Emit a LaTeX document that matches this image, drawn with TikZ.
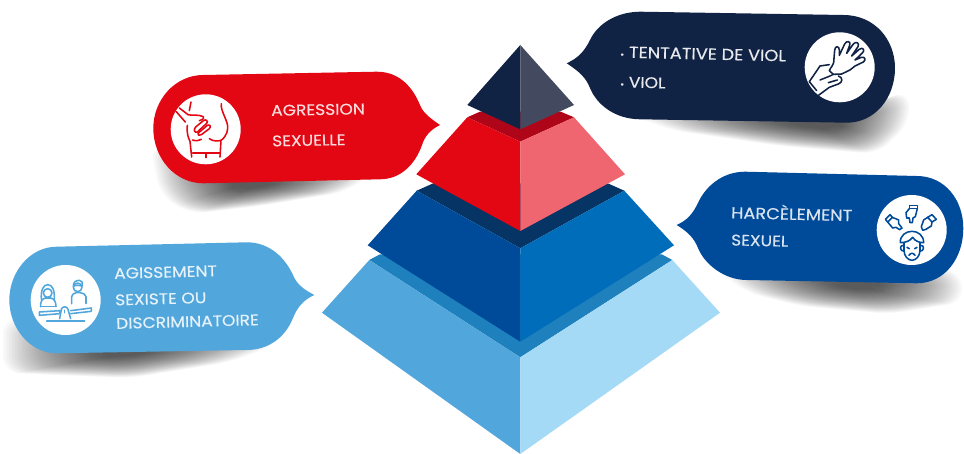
\documentclass[tikz,border=0pt]{standalone}
\usepackage{fontspec}
\newfontfamily\montf{Poppins}[FakeStretch=1.11,FakeBold=0.35]
\definecolor{cNavy}{HTML}{112344}
\definecolor{cSlate}{HTML}{434A5F}
\definecolor{cRed}{HTML}{E30613}
\definecolor{cRedL}{HTML}{EF6670}
\definecolor{cRedD}{HTML}{AE0618}
\definecolor{cBlue}{HTML}{004A9A}
\definecolor{cBlueR}{HTML}{006DBA}
\definecolor{cBlueD}{HTML}{063464}
\definecolor{cBand}{HTML}{1E80BC}
\definecolor{cSky}{HTML}{51A6DC}
\definecolor{cSkyL}{HTML}{A5DAF7}
\newcommand{\softshadow}[2]{%
  \foreach \s in {1,.975,.95,.925,.9,.875,.85,.825,.8,.775,.75,.725,.7,.675,.65,.625,.6,.575,.55,.525,.5,.475,.45,.425,.4,.375,.35,.325,.3,.275,.25,.225,.2}{%
    \fill[black,opacity=.027,rounded corners=16pt,scale around={\s:#1}] #2;}}
\tikzset{
  lab/.style={anchor=west,inner sep=0pt,font=\montf\fontsize{15.4}{16}\selectfont},
  labwide/.style={lab,font=\montf\fontsize{16}{17}\selectfont},
  iconcircle/.style={circle,fill=white,minimum size=70pt,inner sep=0pt},
  ico/.style={line width=1.55pt,line cap=round,line join=round},
}
\begin{document}
\begin{tikzpicture}[x=1pt,y=-1pt]
\useasboundingbox (0,0) rectangle (964,454);
\fill[white] (0,0) rectangle (964,454);
% shadows
\softshadow{(825,124)}{(625,112) -- (850,114) -- (908,90) -- (910,122) -- (878,154) -- (780,146) -- (670,130) -- cycle}
\softshadow{(250,184)}{(150,145) -- (375,172) -- (345,192) -- (260,206) -- (190,214) -- (160,195) -- cycle}
\softshadow{(120,352)}{(3,318) -- (275,345) -- (230,362) -- (130,378) -- (30,374) -- (3,372) -- cycle}
\softshadow{(860,284)}{(715,268) -- (960,270) -- (964,302) -- (890,314) -- (800,306) -- (745,292) -- cycle}
% bubbles
\fill[cNavy] (640,11.7) -- (843.3,15) .. controls (875,15) and (895,40) .. (895,68) .. controls (895,98) and (875,122.7) .. (846.7,122.7) -- (640,119.3) .. controls (615,119) and (597,105) .. (590,88) .. controls (586,78) and (580,72) .. (566.7,63.3) .. controls (578,58) and (584,52) .. (590,40) .. controls (597,25) and (615,12) .. (640,11.7) -- cycle;
\fill[cRed] (203.3,75) -- (376.7,71.7) .. controls (400,71.7) and (413,88) .. (420,105) .. controls (423,113) and (430,118) .. (440,125) .. controls (430,130) and (425,136) .. (422,145) .. controls (415,165) and (400,179.3) .. (380,179.3) -- (203.3,183.3) .. controls (175,183.3) and (153.3,158) .. (153.3,128.3) .. controls (153.3,100) and (175,75) .. (203.3,75) -- cycle;
\fill[cSky] (56.7,246.7) -- (246.7,242.3) .. controls (270,242.3) and (285,258) .. (293,275) .. controls (297,285) and (305,290) .. (314.3,295) .. controls (303,300) and (297,308) .. (293,318) .. controls (285,338) and (268,350) .. (246.7,350) -- (56.7,353.3) .. controls (30,353.3) and (9.3,328) .. (9.3,300) .. controls (9.3,272) and (30,246.7) .. (56.7,246.7) -- cycle;
\fill[cBlue] (745,171.7) -- (916.7,176) .. controls (945,176) and (963.3,200) .. (963.3,228.3) .. controls (963.3,258) and (945,283.3) .. (916.7,283.3) -- (746.7,280) .. controls (725,280) and (705,265) .. (698,248) .. controls (694,238) and (688,232) .. (676.7,225) .. controls (688,220) and (693,213) .. (698,203) .. controls (705,187) and (722,171.7) .. (745,171.7) -- cycle;
% pyramid: bottom tier
\fill[cBand] (369.3,260) -- (380,254.3) -- (661.7,254.3) -- (672.3,260) -- (520.3,357.3) -- cycle;
\fill[cSky] (369.3,260) -- (322,312.7) -- (520.3,454) -- (520.3,357.3) -- cycle;
\fill[cSkyL] (672.3,260) -- (720,312.7) -- (520.3,454) -- (520.3,357.3) -- cycle;
% blue tier
\fill[cBlueD] (416.7,190.7) -- (433.3,183.3) -- (607.7,183.3) -- (624.3,190.7) -- (520.3,248.3) -- cycle;
\fill[cBlue] (416.7,190.7) -- (367.7,245.3) -- (520.3,341.7) -- (520.3,248.3) -- cycle;
\fill[cBlueR] (624.3,190.7) -- (674,245.3) -- (520.3,341.7) -- (520.3,248.3) -- cycle;
% red tier
\fill[cRedD] (467.3,117.3) -- (480,111.7) -- (560.7,111.7) -- (574,117.3) -- (520.3,141.7) -- cycle;
\fill[cRed] (467.3,117.3) -- (416.3,174.3) -- (520.3,231) -- (520.3,141.7) -- cycle;
\fill[cRedL] (574,117.3) -- (625,174.3) -- (520.3,231) -- (520.3,141.7) -- cycle;
% apex
\fill[cNavy] (520.3,45) -- (467.3,105) -- (520.3,129.3) -- cycle;
\fill[cSlate] (520.3,45) -- (574,105) -- (520.3,129.3) -- cycle;
% icon discs
\node[iconcircle] (discViol) at (839.7,67.3) {};
\node[iconcircle] (discAgr) at (205.7,129.3) {};
\node[iconcircle] (discSex) at (65.7,300) {};
\node[iconcircle] (discHar) at (911.7,230) {};
% hand icon
\begin{scope}[shift={(800,30)},x=.3333pt,y=-.3333pt,draw=cNavy,ico]
\draw (88,122) .. controls (92,110) and (100,108) .. (101,98) -- (104,60) .. controls (106,46) and (118,48) .. (118,60) -- (118,76) -- (134,42) .. controls (140,30) and (154,34) .. (149,46) -- (140,70) -- (160,42) .. controls (168,32) and (180,40) .. (174,50) -- (155,78) -- (178,58) .. controls (188,50) and (196,60) .. (188,68) -- (165,90) -- (184,82) .. controls (196,78) and (198,92) .. (190,96) -- (165,108) -- (150,120) -- (125,132) -- (100,133) -- cycle;
\draw (28,155) -- (60,108) -- (88,104);
\draw (115,138) .. controls (130,142) and (128,158) .. (115,162) -- (88,172) -- (50,200);
\draw (28,155) -- (50,182);
\draw (60,150) -- (90,138) -- (100,133);
\draw (85,158) -- (112,150);
\end{scope}
% grope icon
\begin{scope}[shift={(166,92)},x=.3333pt,y=-.3333pt,draw=cRed,ico]
\draw (75,30) -- (70,56);
\draw (30,58) -- (58,90);
\draw (40,48) -- (66,68) .. controls (80,72) and (95,66) .. (112,74) .. controls (116,78) and (112,82) .. (100,86);
\draw (88,106) -- (112,86) .. controls (120,80) and (128,88) .. (122,94) -- (94,120) .. controls (86,124) and (82,114) .. (88,106);
\draw (96,124) -- (124,100) .. controls (132,96) and (136,104) .. (130,110) -- (106,128) .. controls (100,132) and (94,130) .. (96,124);
\draw (64,100) .. controls (62,125) and (66,135) .. (72,148) -- (77,195);
\draw (166,35) .. controls (162,55) and (188,90) .. (185,108) .. controls (184,130) and (170,142) .. (165,145) -- (162,195);
\draw (130,140) .. controls (140,148) and (155,148) .. (165,145);
\draw (80,144) .. controls (90,148) and (100,146) .. (106,142);
\draw (80,183) -- (162,183);
\draw (120,183) -- (120,197);
\end{scope}
% seesaw icon
\begin{scope}[shift={(26,262)},x=.3333pt,y=-.3333pt,draw=cSky,ico]
\draw (65,93) circle (13);
\draw (46,112) .. controls (44,85) and (52,68) .. (65,68) .. controls (80,68) and (86,85) .. (85,112);
\draw (44,134) .. controls (42,118) and (50,110) .. (58,108) -- (74,108) .. controls (84,110) and (90,118) .. (90,134);
\draw (44,134) -- (90,134);
\draw (155,76) circle (13);
\draw (142,72) .. controls (142,60) and (150,55) .. (160,55) .. controls (168,55) and (170,62) .. (169,72) .. controls (160,70) and (150,68) .. (142,72);
\draw (137,125) -- (137,104) .. controls (137,98) and (144,94) .. (150,92) -- (162,92) .. controls (172,94) and (180,98) .. (180,104) -- (180,125);
\draw (40,150) -- (102,146) -- (102,155) -- (40,160) -- cycle;
\draw (134,146) -- (196,138) -- (196,148) -- (134,155);
\draw (101,170) -- (106,142) .. controls (108,132) and (124,132) .. (126,142) -- (134,170);
\draw (62,177) -- (176,177);
\draw (116,145) -- (116,152);
\end{scope}
% pointing icon
\begin{scope}[shift={(872,192)},x=.3333pt,y=-.3333pt,draw=cBlue,ico]
\draw (112,40) -- (136,40) -- (136,50) -- (112,50) -- cycle;
\draw (112,50) -- (102,62) -- (104,78) -- (112,78) -- (114,92) -- (121,92) -- (123,78) -- (130,74) -- (136,50);
\draw (40,82) -- (54,68) -- (61,76) -- (47,90) -- cycle;
\draw (61,76) -- (80,84) -- (80,95) -- (90,108) -- (83,113) -- (72,106) -- (62,108) -- (47,90);
\draw (167,76) -- (180,68) -- (193,82) -- (180,90) -- cycle;
\draw (167,76) -- (155,84) -- (148,104) -- (152,115) -- (162,112) -- (168,108) -- (178,102) -- (180,90);
\draw (85,152) .. controls (84,130) and (102,118) .. (120,118) .. controls (138,118) and (155,130) .. (155,152) .. controls (142,152) and (130,148) .. (122,136) .. controls (114,148) and (98,152) .. (85,152) -- cycle;
\draw (96,152) -- (96,175) .. controls (96,192) and (108,205) .. (120,205) .. controls (132,205) and (144,192) .. (144,175) -- (144,152);
\draw (95,160) .. controls (82,158) and (82,178) .. (97,178);
\draw (145,160) .. controls (158,158) and (158,178) .. (143,178);
\draw (105,166) -- (112,170);
\draw (135,166) -- (128,170);
\draw (111,190) .. controls (115,182) and (125,182) .. (129,190);
\end{scope}
% labels
\node[labwide,text=white!90!cNavy,rotate=-1.3] (t1) at (620,52) {{\fontsize{9}{9}\selectfont•} TENTATIVE DE VIOL};
\node[lab,text=white!90!cNavy,rotate=-1.3] (t2) at (620,82) {{\fontsize{9}{9}\selectfont•} VIOL};
\node[lab,text=white!85!cRed,rotate=1] (t3) at (271,110.5) {AGRESSION};
\node[lab,text=white!85!cRed,rotate=1] (t4) at (272,141) {SEXUELLE};
\node[lab,text=white!85!cSky,rotate=1.5] (t5) at (114,273.5) {AGISSEMENT};
\node[lab,text=white!85!cSky,rotate=1.5] (t6) at (115,300) {SEXISTE OU};
\node[lab,text=white!85!cSky,rotate=1.5] (t7) at (116,323.5) {DISCRIMINATOIRE};
\node[labwide,text=white!85!cBlue,rotate=-1.3] (t8) at (731,211) {HARCÈLEMENT};
\node[lab,text=white!85!cBlue,rotate=-1.3] (t9) at (731,240) {SEXUEL};
\end{tikzpicture}
\end{document}
